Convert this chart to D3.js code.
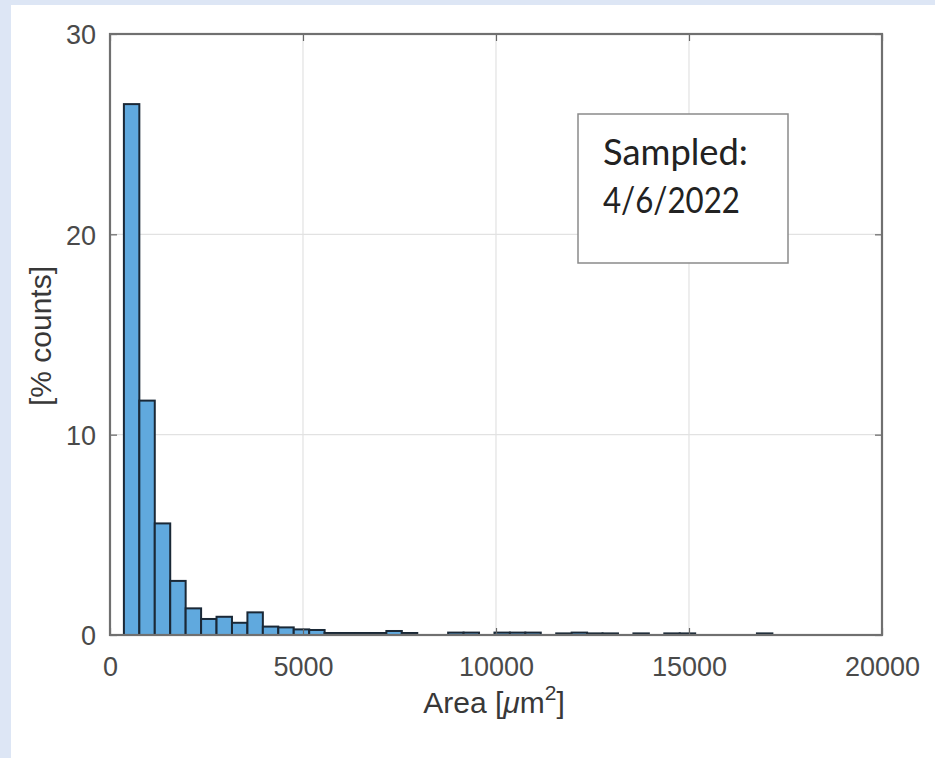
<!DOCTYPE html>
<html>
<head>
<meta charset="utf-8">
<script src="https://cdn.jsdelivr.net/npm/d3@7"></script>
<style>
  html, body { margin: 0; padding: 0; background: #dde6f5; }
  svg { display: block; }
</style>
</head>
<body>
<svg id="chart" width="935" height="758"></svg>
<script>
// ---- data ----
const binStart = 360;
const binWidth = 400;
const percentCounts = [
  26.5, 11.7, 5.57, 2.7, 1.33, 0.8, 0.91, 0.61, 1.13, 0.42,
  0.38, 0.28, 0.25, 0.1, 0.1, 0.1, 0.1, 0.2, 0.1, 0,
  0, 0.12, 0.12, 0, 0.12, 0.12, 0.12, 0, 0.08, 0.12,
  0.08, 0.08, 0, 0.08, 0, 0.08, 0.08, 0, 0, 0,
  0, 0.08
];
const xTicks = [0, 5000, 10000, 15000, 20000];
const yTicks = [0, 10, 20, 30];
const xLabel = "Area [";
const yLabel = "[% counts]";
const noteLines = ["Sampled:", "4/6/2022"];

const bins = percentCounts.map((v, i) => ({ x0: binStart + i * binWidth, x1: binStart + (i + 1) * binWidth, v }));

// ---- layout ----
const svg = d3.select("#chart");
svg.append("rect").attr("x", 11).attr("y", 5).attr("width", 924).attr("height", 753).attr("fill", "#ffffff");

const L = 110, R = 882, T = 34, B = 635;
const x = d3.scaleLinear().domain([0, 20000]).range([L, R]);
const y = d3.scaleLinear().domain([0, 30]).range([B, T]);

// grid
const g = svg.append("g");
g.selectAll(".gx").data(xTicks.slice(1, -1)).join("line")
  .attr("x1", d => x(d)).attr("x2", d => x(d)).attr("y1", T).attr("y2", B)
  .attr("stroke", "#e2e2e2").attr("stroke-width", 1.2);
g.selectAll(".gy").data(yTicks.slice(1, -1)).join("line")
  .attr("y1", d => y(d)).attr("y2", d => y(d)).attr("x1", L).attr("x2", R)
  .attr("stroke", "#e2e2e2").attr("stroke-width", 1.2);

// bars
svg.append("g").selectAll("rect").data(bins.filter(b => b.v > 0)).join("rect")
  .attr("x", d => x(d.x0)).attr("width", d => x(d.x1) - x(d.x0))
  .attr("y", d => y(d.v)).attr("height", d => y(0) - y(d.v))
  .attr("fill", "#60a9de").attr("stroke", "#1a2836").attr("stroke-width", 2);

// axes with inward ticks
const tickLen = 7;
const axB = svg.append("g").attr("transform", `translate(0,${B})`)
  .call(d3.axisBottom(x).tickValues(xTicks).tickSize(-tickLen).tickPadding(22).tickFormat(d3.format("d")));
const axT = svg.append("g").attr("transform", `translate(0,${T})`)
  .call(d3.axisTop(x).tickValues(xTicks).tickSize(-tickLen).tickFormat(""));
const axL = svg.append("g").attr("transform", `translate(${L},0)`)
  .call(d3.axisLeft(y).tickValues(yTicks).tickSize(-tickLen).tickPadding(14).tickFormat(d3.format("d")));
const axR = svg.append("g").attr("transform", `translate(${R},0)`)
  .call(d3.axisRight(y).tickValues(yTicks).tickSize(-tickLen).tickFormat(""));
[axB, axT, axL, axR].forEach(a => {
  a.select(".domain").remove();
  a.selectAll(".tick line").attr("stroke", "#666").attr("stroke-width", 1.2);
  a.selectAll("text").attr("fill", "#4a4a4a").style("font-family", "'Liberation Sans', Arial, sans-serif").style("font-size", "27px");
});
axB.selectAll("text").attr("dy", "0.71em");
axL.selectAll("text").attr("dy", "0.36em");

// box
svg.append("rect").attr("x", L).attr("y", T).attr("width", R - L).attr("height", B - T)
  .attr("fill", "none").attr("stroke", "#707070").attr("stroke-width", 2.2);

// axis labels
const xl = svg.append("text").attr("x", 494).attr("y", 713).attr("text-anchor", "middle")
  .attr("fill", "#383838").style("font-family", "'Liberation Sans', Arial, sans-serif").style("font-size", "30px");
xl.append("tspan").text(xLabel);
xl.append("tspan").text("\u03bc").style("font-style", "italic");
xl.append("tspan").text("m");
xl.append("tspan").text("2").attr("dy", -13).style("font-size", "21px");
xl.append("tspan").text("]").attr("dy", 13);

svg.append("text").attr("transform", "translate(51,336) rotate(-90)").attr("text-anchor", "middle")
  .attr("fill", "#383838").style("font-family", "'Liberation Sans', Arial, sans-serif").style("font-size", "30px")
  .text(yLabel);

// note box
svg.append("rect").attr("x", 578).attr("y", 114).attr("width", 210).attr("height", 149)
  .attr("fill", "#ffffff").attr("stroke", "#8a8a8a").attr("stroke-width", 1.5);
const note = svg.append("g");
const t1 = note.append("text").attr("x", 603).attr("y", 165).text(noteLines[0]);
const t2 = note.append("text").attr("x", 603).attr("y", 213).text(noteLines[1]);
[t1, t2].forEach(t => t.attr("fill", "#222").style("font-family", "Lato, 'Open Sans', sans-serif").style("font-size", "30px"));
const w = t1.node().getComputedTextLength();
const fs = 30 * 145 / w;
[t1, t2].forEach(t => t.style("font-size", fs + "px"));
t2.attr("textLength", 137).attr("lengthAdjust", "spacingAndGlyphs");
</script>
</body>
</html>
